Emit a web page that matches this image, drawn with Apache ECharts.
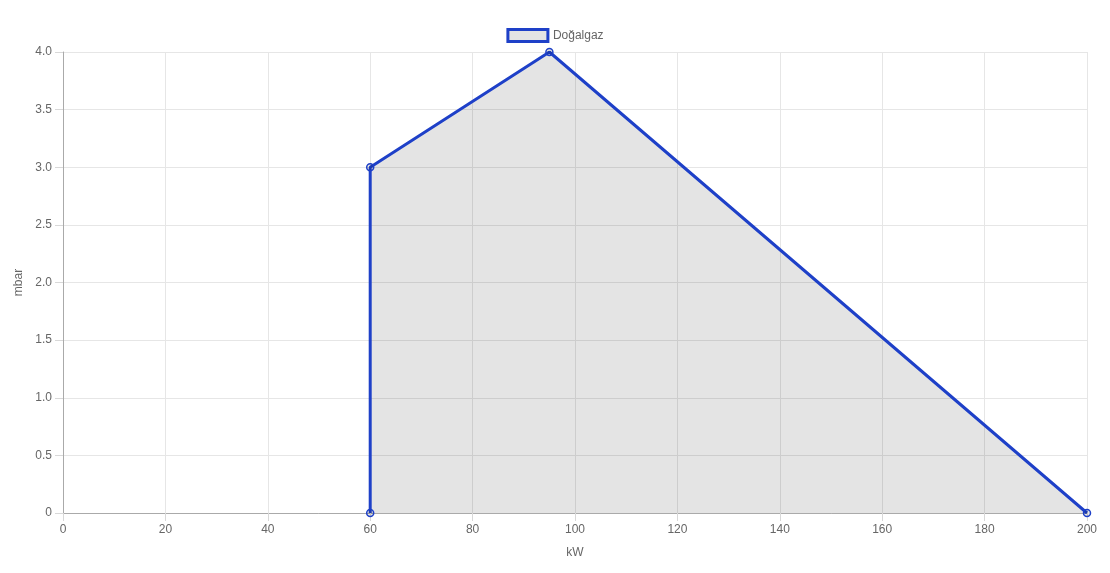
<!DOCTYPE html>
<html>
<head>
<meta charset="utf-8">
<script src="https://cdn.jsdelivr.net/npm/echarts@6/dist/echarts.min.js"></script>
<style>html,body{margin:0;padding:0;background:#fff}#c{width:1110px;height:573px}</style>
</head>
<body>
<div id="c"></div>
<script>
const seriesName = 'Doğalgaz';
const kW = [60, 60, 95, 200];
const mbar = [0, 3, 4, 0];
const xAxisTitle = 'kW';
const yAxisTitle = 'mbar';

const blue = '#1e40c8';
const font = 'Liberation Sans, Helvetica, Arial, sans-serif';
const chart = echarts.init(document.getElementById('c'));
chart.setOption({
  animation: false,
  textStyle: { fontFamily: font },
  legend: {
    top: 23,
    left: 'center',
    itemWidth: 40,
    itemHeight: 12,
    itemGap: 10,
    textStyle: { color: '#666', fontSize: 12, fontFamily: font },
    data: [{
      name: seriesName,
      icon: 'rect',
      itemStyle: { color: '#e4e4e4', borderColor: blue, borderWidth: 3 }
    }]
  },
  grid: { left: 63, right: 23, top: 52, bottom: 60, containLabel: false },
  xAxis: {
    type: 'value', min: 0, max: 200, interval: 20,
    name: xAxisTitle, nameLocation: 'middle', nameGap: 34,
    nameTextStyle: { color: '#666', fontSize: 12, fontFamily: font },
    axisLine: { show: true, lineStyle: { color: '#aaa', width: 1 } },
    axisTick: { show: true, length: 8, lineStyle: { color: '#d8d8d8' } },
    axisLabel: { color: '#666', fontSize: 12, margin: 11, fontFamily: font },
    splitLine: { show: true, lineStyle: { color: '#e6e6e6', width: 1 } }
  },
  yAxis: {
    type: 'value', min: 0, max: 4, interval: 0.5,
    name: yAxisTitle, nameLocation: 'middle', nameGap: 38, nameRotate: 90,
    nameTextStyle: { color: '#666', fontSize: 12, fontFamily: font },
    axisLine: { show: true, lineStyle: { color: '#aaa', width: 1 } },
    axisTick: { show: true, length: 8, lineStyle: { color: '#d8d8d8' } },
    axisLabel: { color: '#666', fontSize: 12, margin: 11, fontFamily: font,
      formatter: v => v === 0 ? '0' : v.toFixed(1) },
    splitLine: { show: true, lineStyle: { color: '#e6e6e6', width: 1 } }
  },
  series: [{
    name: seriesName,
    type: 'line',
    data: kW.map((x, i) => [x, mbar[i]]),
    symbol: 'circle',
    symbolSize: 7,
    showSymbol: true,
    lineStyle: { color: blue, width: 3 },
    itemStyle: { color: 'rgba(0,0,0,0.1)', borderColor: blue, borderWidth: 1.5 },
    areaStyle: { color: 'rgba(0,0,0,0.105)', opacity: 1 },
    z: 3
  }]
});
</script>
</body>
</html>
